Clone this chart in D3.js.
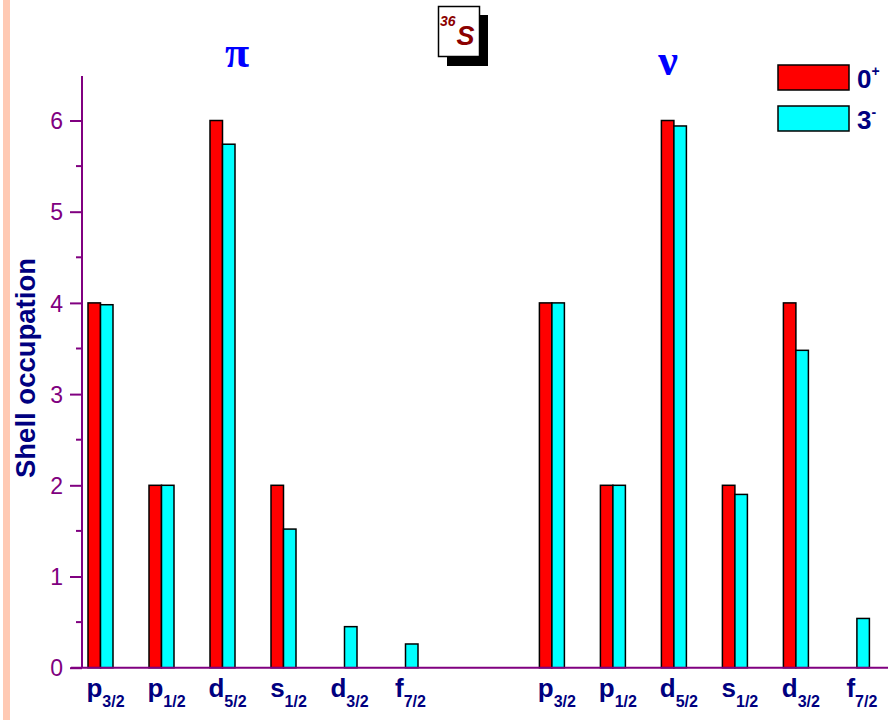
<!DOCTYPE html>
<html><head><meta charset="utf-8">
<script src="https://cdn.jsdelivr.net/npm/d3@7"></script>
<style>body{margin:0;background:#fff;overflow:hidden}svg{display:block}</style>
</head><body>
<script>
// ---- data ----
const orbitals = ["p", "p", "d", "s", "d", "f"];
const orbitalSubs = ["3/2", "1/2", "5/2", "1/2", "3/2", "7/2"];
const groups = ["π", "ν"];
const seriesNames = ["0", "3"];
const seriesSups = ["+", "-"];
const protonGround = [4, 2, 6, 2, 0, 0];
const protonExcited = [3.98, 2, 5.74, 1.52, 0.45, 0.26];
const neutronGround = [4, 2, 6, 2, 4, 0];
const neutronExcited = [4, 2, 5.94, 1.9, 3.48, 0.54];
const yTicks = [0, 1, 2, 3, 4, 5, 6];
const nucleusMass = "36", nucleusSymbol = "S";

const W = 888, H = 720;
const svg = d3.select("body").append("svg").attr("width", W).attr("height", H);
const sans = "Liberation Sans, Arial, sans-serif";

// left decorative stripe
svg.append("rect").attr("x", 3).attr("y", 0).attr("width", 7).attr("height", H).attr("fill", "#ffc9b3");

const axisColor = "#800080", navy = "#000080";
const y = d3.scaleLinear().domain([0, 6]).range([667.7, 120.5]);
// slot positions: proton group at 1..6, neutron group offset by a gap
const groupOffset = [0, 7.4];
const x = d3.scaleLinear().domain([1, 6]).range([100.5, 405.5]);
const barW = 12.5;

const data = [];
const series = [[protonGround, protonExcited], [neutronGround, neutronExcited]];
series.forEach((pair, g) => {
  pair.forEach((vals, s) => {
    vals.forEach((v, i) => {
      data.push({g, s, i, v, pos: i + 1 + groupOffset[g]});
    });
  });
});

// bars
svg.append("g").selectAll("rect").data(data.filter(d => d.v > 0)).join("rect")
  .attr("x", d => x(d.pos) + (d.s === 0 ? -barW : 0))
  .attr("y", d => y(d.v))
  .attr("width", barW)
  .attr("height", d => y(0) - y(d.v))
  .attr("fill", d => d.s === 0 ? "#ff0000" : "#00ffff")
  .attr("stroke", "#000").attr("stroke-width", 1.5);

// y axis
const yAxis = d3.axisLeft(y).tickValues(yTicks).tickSize(12).tickSizeOuter(0).tickFormat(d3.format("d"));
const ga = svg.append("g").attr("transform", "translate(82,0)").call(yAxis);
ga.select(".domain").remove();
ga.selectAll(".tick line").attr("stroke", axisColor).attr("stroke-width", 2);
ga.selectAll(".tick text").attr("fill", axisColor).attr("font-family", sans)
  .attr("font-size", 23).attr("dx", -4).attr("dy", "0.36em");
// minor ticks
svg.append("g").selectAll("line").data(d3.range(0.5, 6.5, 1)).join("line")
  .attr("x1", 76).attr("x2", 82).attr("y1", d => y(d)).attr("y2", d => y(d))
  .attr("stroke", axisColor).attr("stroke-width", 2);
svg.append("line").attr("x1", 82).attr("x2", 82).attr("y1", 76).attr("y2", y(0))
  .attr("stroke", axisColor).attr("stroke-width", 2);
// x axis line
svg.append("line").attr("x1", 71).attr("x2", W).attr("y1", y(0)).attr("y2", y(0))
  .attr("stroke", axisColor).attr("stroke-width", 2);

// x labels
const labels = [];
groups.forEach((g, gi) => orbitals.forEach((o, i) => labels.push({o, sub: orbitalSubs[i], pos: i + 1 + groupOffset[gi]})));
const lt = svg.append("g").selectAll("text").data(labels).join("text")
  .attr("x", d => x(d.pos) + 5).attr("y", 697)
  .attr("text-anchor", "middle")
  .attr("font-family", sans).attr("font-weight", "bold")
  .attr("fill", navy).attr("font-size", 26);
lt.append("tspan").text(d => d.o);
lt.append("tspan").attr("dy", 10).attr("font-size", 16).text(d => d.sub);

// y label
svg.append("text").attr("transform", "translate(35,368) rotate(-90)")
  .attr("text-anchor", "middle").attr("font-family", sans)
  .attr("font-weight", "bold").attr("font-size", 27.5).attr("fill", navy).text("Shell occupation");

// group titles
svg.append("g").selectAll("text").data(groups).join("text")
  .attr("x", (d, i) => i === 0 ? 237 : 668).attr("y", (d, i) => i === 0 ? 67 : 75)
  .attr("text-anchor", "middle").attr("font-family", "Liberation Serif, Times New Roman, serif")
  .attr("font-weight", "bold").attr("font-size", 44).attr("fill", "#0000ff").text(d => d);

// nucleus box
svg.append("rect").attr("x", 447).attr("y", 15).attr("width", 41).attr("height", 51).attr("fill", "#000");
svg.append("rect").attr("x", 438.5).attr("y", 6.5).attr("width", 41).attr("height", 50).attr("fill", "#fff")
  .attr("stroke", "#000").attr("stroke-width", 1.5);
const nt = svg.append("text").attr("x", 440).attr("y", 45).attr("font-family", sans)
  .attr("font-weight", "bold").attr("font-style", "italic").attr("fill", "#8b0000");
nt.append("tspan").attr("font-size", 14).attr("dy", -19).text(nucleusMass);
nt.append("tspan").attr("font-size", 27).attr("dy", 19).attr("dx", 1).text(nucleusSymbol);

// legend
const legColors = ["#ff0000", "#00ffff"];
const lg = svg.append("g").selectAll("g").data(seriesNames).join("g")
  .attr("transform", (d, i) => `translate(778,${65 + i * 41})`);
lg.append("rect").attr("width", 71).attr("height", 25).attr("fill", (d, i) => legColors[i])
  .attr("stroke", "#000").attr("stroke-width", 1.5);
const ltx = lg.append("text").attr("x", 79).attr("y", 23).attr("font-family", sans)
  .attr("font-weight", "bold").attr("fill", navy);
ltx.append("tspan").attr("font-size", 26).text(d => d);
ltx.append("tspan").attr("font-size", 14).attr("dy", -12).text((d, i) => seriesSups[i]);
</script>
</body></html>
